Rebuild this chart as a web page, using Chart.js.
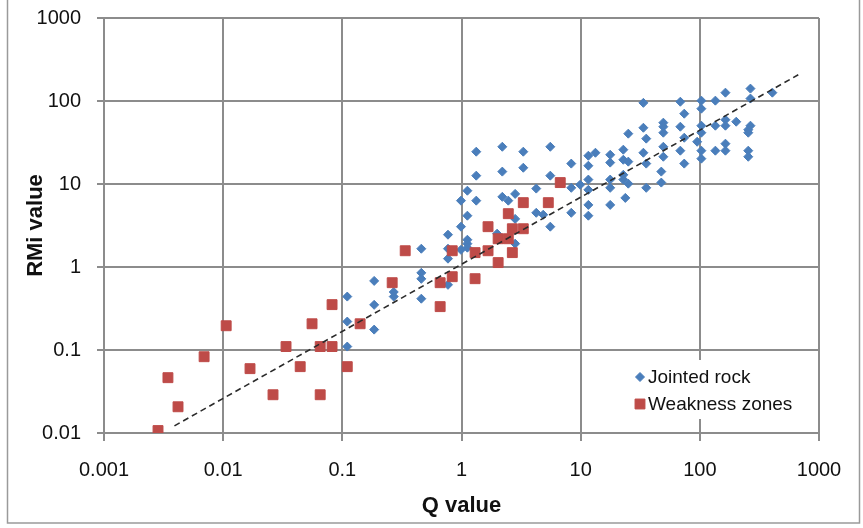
<!DOCTYPE html>
<html>
<head>
<meta charset="utf-8">
<script src="https://cdn.jsdelivr.net/npm/chart.js@4"></script>
<style>
  html, body { margin: 0; padding: 0; background: #fff; }
  #wrap { position: relative; width: 863px; height: 528px; }
</style>
</head>
<body>
<div id="wrap"><canvas id="chart" width="863" height="528"></canvas></div>
<script>
// values (log-log scatter)
const jointedQ = [
  0.11, 0.11, 0.11,
  0.185, 0.185, 0.185,
  0.27, 0.27,
  0.46, 0.46, 0.46, 0.46,
  0.77, 0.77, 0.77, 0.77,
  0.99, 0.99, 0.99,
  1.12, 1.12, 1.12, 1.12, 1.12,
  1.33, 1.33, 1.33,
  1.99,
  2.2, 2.2, 2.2,
  2.47,
  2.82, 2.82, 2.82,
  3.3, 3.3,
  4.24, 4.24,
  4.85,
  5.56, 5.56, 5.56,
  8.34, 8.34, 8.34,
  9.9,
  11.6, 11.6, 11.6, 11.6, 11.6, 11.6,
  13.3,
  17.7, 17.7, 17.7, 17.7, 17.7,
  22.8, 22.8, 22.8, 22.8,
  23.7,
  25.1, 25.1, 25.1,
  33.6, 33.6, 33.6,
  35.5, 35.5, 35.5,
  47.5, 47.5,
  49.4, 49.4, 49.4, 49.4, 49.4,
  68.6, 68.6, 68.6,
  74, 74, 74,
  95,
  103, 103, 103, 103, 103, 103,
  135, 135, 135,
  164, 164, 164, 164, 164,
  202,
  266, 266, 266, 255, 255, 255, 255,
  406
];
const jointedRMi = [
  0.44, 0.22, 0.11,
  0.68, 0.35, 0.176,
  0.50, 0.44,
  1.66, 0.85, 0.72, 0.415,
  2.45, 1.66, 1.26, 0.61,
  6.3, 3.06, 1.61,
  8.3, 4.15, 2.13, 1.91, 1.71,
  24.5, 12.6, 6.3,
  2.52,
  28.1, 14.1, 7.0,
  6.3,
  7.6, 3.8, 1.91,
  24.5, 15.7,
  8.8, 4.5,
  4.26,
  28.1, 12.6, 3.06,
  17.6, 9.0, 4.5,
  9.8,
  21.9, 16.6, 11.3, 8.5, 5.6, 4.15,
  23.8,
  22.5, 18.1, 11.3, 9.0, 5.6,
  25.9, 19.6, 12.9, 11.3,
  6.8,
  40.4, 18.6, 10.1,
  95, 47.6, 23.8,
  35.2, 17.6, 9.0,
  14.1, 10.4,
  54.8, 49, 41.5, 28.1, 21.3,
  98, 49, 25.2,
  70.3, 36.1, 17.6,
  32.3,
  101, 80.8, 50.4, 41.5, 25.2, 20.2,
  101, 50.4, 25.2,
  126, 59.5, 50.4, 30.6, 25.2,
  56.3,
  141, 107, 50.4, 45.1, 41.5, 25.2, 21.3,
  126
];
const weakQ = [
  0.00284, 0.00418, 0.00344, 0.00692, 0.0106, 0.0168, 0.0262, 0.0337,
  0.0443, 0.0557, 0.0652, 0.0652, 0.082, 0.082, 0.11, 0.141,
  0.262, 0.337, 0.662, 0.662, 0.836, 0.836, 1.3, 1.3,
  1.67, 1.67, 2.03, 2.03, 2.47, 2.47, 2.67, 2.67,
  3.3, 3.3, 5.35, 6.74
];
const weakRMi = [
  0.0107, 0.0207, 0.0464, 0.083, 0.196, 0.0596, 0.0289, 0.11,
  0.063, 0.207, 0.11, 0.0289, 0.352, 0.11, 0.063, 0.207,
  0.647, 1.57, 0.647, 0.333, 1.57, 0.764, 1.49, 0.723,
  1.57, 3.06, 1.13, 2.19, 2.19, 4.39, 1.49, 2.89,
  5.96, 2.89, 5.96, 10.4
];
// dashed trend line end points
const trendQ = [0.0039, 670];
const trendRMi = [0.0122, 207];

const qTicks = [0.001, 0.01, 0.1, 1, 10, 100, 1000];
const rmiTicks = [0.01, 0.1, 1, 10, 100, 1000];
const seriesNames = ['Jointed rock', 'Weakness zones'];

const BLUE = '#4a7ebb';
const RED = '#be4b48';
const GRID = '#8c8c8c';
const FONT = "'Liberation Sans', Arial, sans-serif";

const toPoints = (xs, ys) => xs.map((x, i) => ({ x: x, y: ys[i] }));

// outer frame round the whole chart
const framePlugin = {
  id: 'frame',
  beforeDraw(chart) {
    const ctx = chart.ctx;
    ctx.save();
    ctx.fillStyle = '#fff';
    ctx.fillRect(0, 0, chart.width, chart.height);
    ctx.strokeStyle = '#9a9a9a';
    ctx.lineWidth = 1.5;
    ctx.strokeRect(7.5, -2, chart.width - 11, chart.height - 3);
    ctx.restore();
  }
};

// legend sitting inside the plot area, lower right
const boxLegend = {
  id: 'boxLegend',
  afterDatasetsDraw(chart) {
    const ctx = chart.ctx;
    const area = chart.chartArea;
    const x0 = area.right - 189;
    const y0 = area.bottom - 73;
    ctx.save();
    ctx.fillStyle = '#fff';
    ctx.fillRect(x0, y0, 166, 59);
    ctx.font = '19px ' + FONT;
    ctx.textBaseline = 'middle';
    ctx.textAlign = 'left';
    const items = [
      { name: seriesNames[0], style: 'rectRot', radius: 4.5, color: BLUE, y: y0 + 17 },
      { name: seriesNames[1], style: 'rect', radius: 7, color: RED, y: y0 + 44 }
    ];
    items.forEach(it => {
      ctx.fillStyle = it.color;
      ctx.strokeStyle = it.color;
      ctx.lineWidth = 1;
      Chart.helpers.drawPoint(ctx, { pointStyle: it.style, radius: it.radius, borderWidth: 1 }, x0 + 10, it.y);
      ctx.fillStyle = '#111';
      ctx.fillText(it.name, x0 + 18, it.y + 1);
    });
    ctx.restore();
  }
};

new Chart(document.getElementById('chart'), {
  type: 'scatter',
  data: {
    datasets: [
      {
        label: seriesNames[0],
        data: toPoints(jointedQ, jointedRMi),
        pointStyle: 'rectRot',
        pointRadius: 4.5,
        pointBackgroundColor: BLUE,
        pointBorderColor: BLUE,
        pointBorderWidth: 1,
        order: 2
      },
      {
        label: seriesNames[1],
        data: toPoints(weakQ, weakRMi),
        pointStyle: 'rect',
        pointRadius: 7,
        pointBackgroundColor: RED,
        pointBorderColor: RED,
        pointBorderWidth: 1,
        order: 1
      },
      {
        label: 'trend',
        type: 'line',
        data: toPoints(trendQ, trendRMi),
        showLine: true,
        borderColor: '#2b2b2b',
        borderWidth: 1.6,
        borderDash: [6, 4],
        pointRadius: 0,
        fill: false,
        order: 0
      }
    ]
  },
  options: {
    responsive: false,
    animation: false,
    layout: { padding: { top: 18, right: 44, left: 0, bottom: 0 } },
    plugins: {
      legend: { display: false },
      tooltip: { enabled: false }
    },
    scales: {
      x: {
        type: 'logarithmic',
        min: 0.001,
        max: 1000,
        afterBuildTicks: s => { s.ticks = qTicks.map(v => ({ value: v })); },
        afterFit: s => { s.height = 95; },
        grid: { color: GRID, lineWidth: 2, tickLength: 8, tickColor: GRID },
        border: { color: GRID, width: 2 },
        ticks: {
          autoSkip: false,
          maxRotation: 0,
          padding: 17,
          color: '#111',
          font: { family: FONT, size: 20 },
          callback: v => String(v)
        },
        title: {
          display: true,
          text: 'Q value',
          color: '#111',
          font: { family: FONT, size: 22, weight: 'bold' },
          padding: { top: 0, bottom: 9 }
        }
      },
      y: {
        type: 'logarithmic',
        min: 0.01,
        max: 1000,
        afterBuildTicks: s => { s.ticks = rmiTicks.map(v => ({ value: v })); },
        afterFit: s => {
          s.width = 104;
          s.paddingTop = 10;
          s.paddingBottom = 10;
        },
        grid: { color: GRID, lineWidth: 2, tickLength: 7, tickColor: GRID },
        border: { color: GRID, width: 2 },
        ticks: {
          autoSkip: false,
          padding: 16,
          color: '#111',
          font: { family: FONT, size: 20 },
          callback: v => String(v)
        },
        title: {
          display: true,
          text: 'RMi value',
          color: '#111',
          font: { family: FONT, size: 22, weight: 'bold' },
          padding: { top: 23, bottom: 0 }
        }
      }
    }
  },
  plugins: [framePlugin, boxLegend]
});
</script>
</body>
</html>
